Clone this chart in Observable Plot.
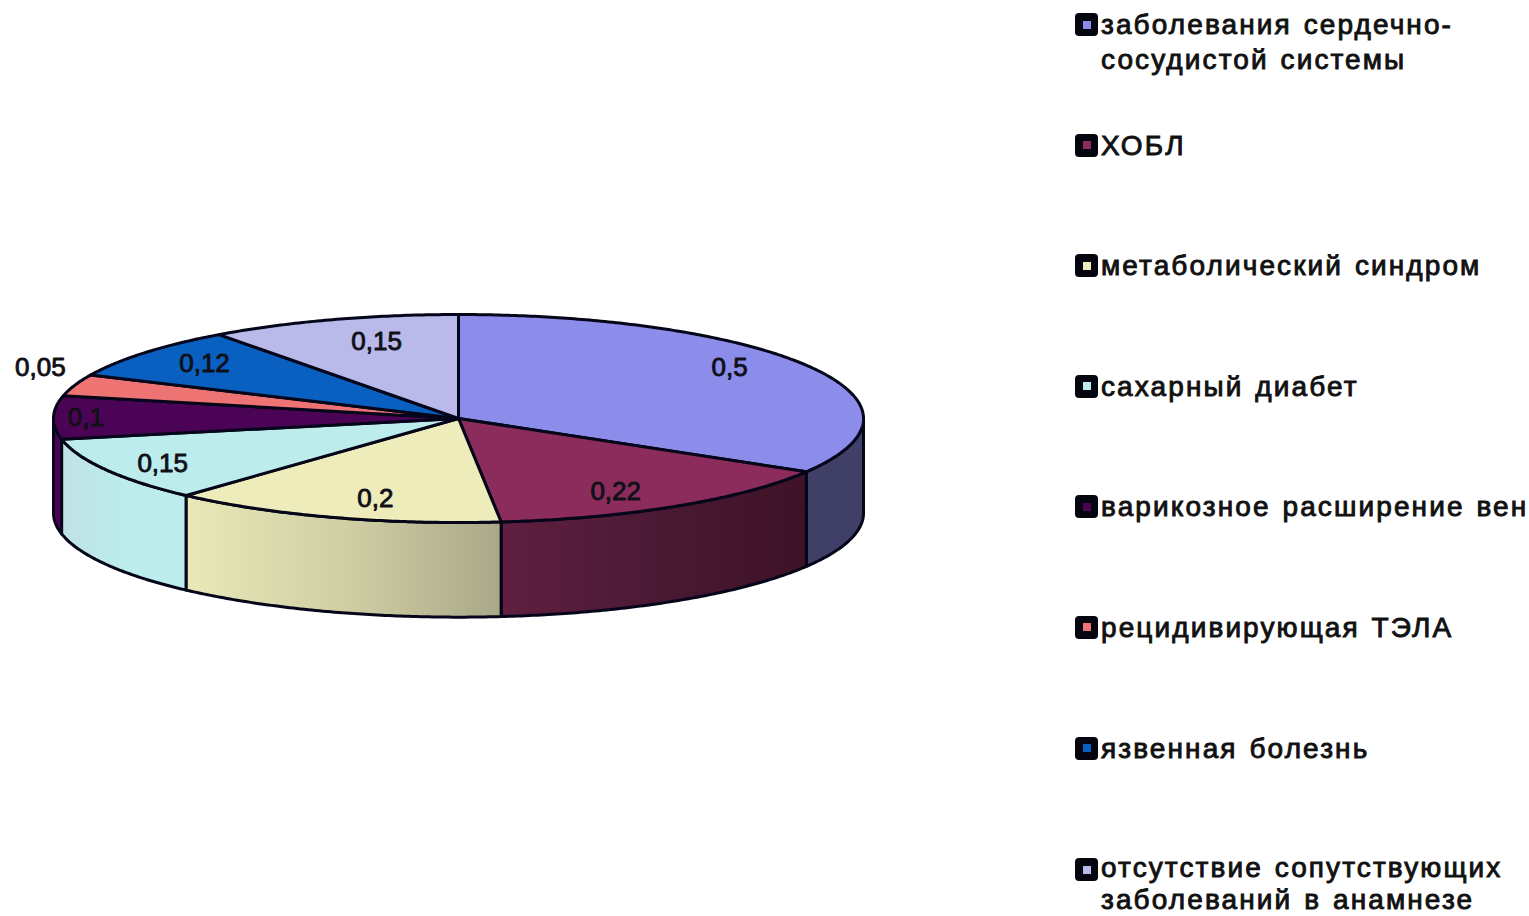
<!DOCTYPE html>
<html lang="ru">
<head>
<meta charset="utf-8">
<script src="https://cdn.jsdelivr.net/npm/d3@7"></script>
<script src="https://cdn.jsdelivr.net/npm/@observablehq/plot@0.6"></script>
<style>
  html, body { margin: 0; padding: 0; background: #fff; overflow: hidden; }
  #page { display: flex; width: 1529px; height: 916px; overflow: hidden; }
  #chart { flex: 0 0 1075px; }
  #chart svg { display: block; }
  #legend {
    flex: 0 0 454px; padding-top: 7px; box-sizing: border-box;
    display: grid; grid-auto-rows: 120.6px;
    font: 400 28px/35px "Liberation Sans", Arial, sans-serif;
    letter-spacing: 2.1px; word-spacing: 2px; color: #111;
    -webkit-text-stroke: 0.9px #111;
  }
  .row { display: flex; align-items: flex-start; white-space: pre; }
  .row:last-child { line-height: 32px; margin-top: 1px; }
  .swatch {
    flex: 0 0 23px; height: 23px; margin: 6px 3px 0 0; box-sizing: border-box;
    background: #05050f; border-radius: 4px; display: flex; align-items: center; justify-content: center;
  }
  .swatch i { display: block; width: 8px; height: 8px; }
</style>
</head>
<body>
<div id="page">
  <div id="chart"></div>
  <div id="legend"></div>
</div>
<script>
// Comorbidity shares, in clockwise order from twelve o'clock.
const categories = [
  "заболевания сердечно-\nсосудистой системы",
  "ХОБЛ",
  "метаболический синдром",
  "сахарный диабет",
  "варикозное расширение вен",
  "рецидивирующая ТЭЛА",
  "язвенная болезнь",
  "отсутствие сопутствующих\nзаболеваний в анамнезе"
];
const values = [0.5, 0.22, 0.2, 0.15, 0.1, 0.05, 0.12, 0.15];
const valueLabels = ["0,5", "0,22", "0,2", "0,15", "0,1", "0,05", "0,12", "0,15"];
const topColors = ["#8c8ceb", "#8b2c5c", "#eeecbb", "#bcecec", "#4b0455", "#ee7474", "#0a60c0", "#babaea"];
const wallColors = ["#3f3f68", "url(#wall-copd)", "url(#wall-metabolic)", "url(#wall-diabetes)", "#4b0455", "#a85050", "#064080", "#8484a8"];

// How far along each slice's middle radius its label sits, horizontally and vertically.
const labelReachX = [0.77, 0.72, 0.66, 0.84, 0.92, 1.09, 0.81, 0.65];
const labelReachY = [0.99, 0.83, 0.81, 0.88, 1, 1.53, 0.84, 0.78];

// The disc is a unit circle seen at a tilt; the y unit is its own foreshortened radius.
const thickness = 0.91;
const total = d3.sum(values);
const toAngle = (v) => (v / total) * 2 * Math.PI;
let running = 0;
const slices = values.map((v, i) => {
  const start = toAngle(running);
  running += v;
  return {i, start, end: toAngle(running), mid: (start + toAngle(running)) / 2};
});

const arc = (a, b) => {
  const n = Math.max(2, Math.ceil(Math.abs(b - a) / 0.01));
  return d3.range(n + 1).map((k) => a + ((b - a) * k) / n);
};

const topPoints = slices.flatMap((s) => [
  {key: s.i, x: 0, y: 0, color: topColors[s.i]},
  ...arc(s.start, s.end).map((t) => ({key: s.i, x: Math.sin(t), y: Math.cos(t), color: topColors[s.i]}))
]);

// Only the front half of the rim faces the viewer.
const wallPoints = slices.flatMap((s) => {
  const a = Math.max(s.start, Math.PI / 2);
  const b = Math.min(s.end, (3 * Math.PI) / 2);
  if (a >= b) return [];
  return [
    ...arc(a, b).map((t) => ({key: s.i, x: Math.sin(t), y: Math.cos(t), color: wallColors[s.i]})),
    ...arc(b, a).map((t) => ({key: s.i, x: Math.sin(t), y: Math.cos(t) - thickness, color: wallColors[s.i]}))
  ];
});

const labels = slices.map((s) => ({
  text: valueLabels[s.i],
  x: Math.sin(s.mid) * labelReachX[s.i],
  y: Math.cos(s.mid) * labelReachY[s.i]
}));

const face = (data) => Plot.line(data, {
  x: "x", y: "y", z: "key", fill: "color",
  stroke: "#06061a", strokeWidth: 3, curve: "linear-closed"
});

const plot = Plot.plot({
  width: 1075,
  height: 916,
  margin: 0,
  x: {domain: [-458 / 405, (1075 - 458) / 405], range: [0, 1075], axis: null},
  y: {domain: [418 / 104, (418 - 916) / 104], range: [0, 916], axis: null},
  marks: [
    face(wallPoints),
    face(topPoints),
    Plot.text(labels, {
      x: "x", y: "y", text: "text", fill: "#101018",
      fontSize: 26, fontFamily: "Liberation Sans, Arial, sans-serif",
      letterSpacing: "0.4px",
      stroke: "#101018", strokeWidth: 0.9
    })
  ]
});

// Horizontal shading for the lit front of the rim.
const stops = (id, from) => `<linearGradient id="${id}" x1="0" x2="1" y1="0" y2="0">` +
  from.map((c, k) => `<stop offset="${k / (from.length - 1)}" stop-color="${c}"/>`).join("") +
  `</linearGradient>`;
const defs = document.createElementNS("http://www.w3.org/2000/svg", "defs");
defs.innerHTML =
  stops("wall-copd", ["#601f40", "#4a1a34", "#3e1226"]) +
  stops("wall-metabolic", ["#e9e8b8", "#d0cfa4", "#a9a888"]) +
  stops("wall-diabetes", ["#bfe2e4", "#bcecec", "#bcecec"]);
plot.prepend(defs);
document.getElementById("chart").append(plot);

// Legend column beside the pie.
const legend = d3.select("#legend");
const rows = legend.selectAll(".row").data(categories).join("div").attr("class", "row");
rows.append("span").attr("class", "swatch")
  .append("i").style("background", (d, i) => topColors[i]);
rows.append("span").text((d) => d);
</script>
</body>
</html>
